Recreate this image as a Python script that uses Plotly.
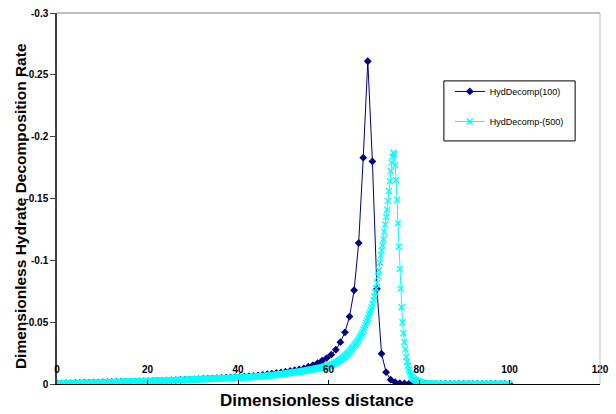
import numpy as np
import plotly.graph_objects as go

# ---------------- data ----------------
# HydDecomp(100): 100 grid points over dimensionless distance 0..100
# (magnitudes; plotted as negative rates)
mag_100 = [
    .0004, .0005, .0006, .0007, .0008, .0009, .0010, .0011, .0012, .0013,
    .0014, .0015, .0016, .0017, .0018, .0019, .0020, .0021, .0022, .0023,
    .0024, .0025, .0027, .0028, .0029, .0031, .0032, .0034, .0035, .0037,
    .0038, .0040, .0042, .0044, .0046, .0048, .0050, .0052, .0054, .0056,
    .0057, .0060, .0063, .0066, .0070, .0074, .0079, .0084, .0089, .0094,
    .0099, .0105, .0111, .0118, .0126, .0140, .0152, .0168, .0188, .0210,
    .0237, .0277, .0338, .0418, .0545, .0758, .1140, .1830, .2610, .1800,
    .0770, .0245, .0096, .0035, .0014, .0007, .0004, .0002, .0001, .0000,
    0, 0, 0, 0, 0, 0, 0, 0, 0, 0,
    0, 0, 0, 0, 0, 0, 0, 0, 0, 0,
]
distance_100 = np.linspace(0, 100, len(mag_100))

# HydDecomp-(500): 500 grid points over dimensionless distance 0..100
mag_500 = [
    .0003, .0003,
    .0003, .0003, .0003, .0004, .0004, .0004, .0004, .0004, .0005, .0005,
    .0005, .0005, .0005, .0006, .0006, .0006, .0006, .0006, .0007, .0007,
    .0007, .0007, .0007, .0008, .0008, .0008, .0008, .0008, .0009, .0009,
    .0009, .0009, .0009, .0010, .0010, .0010, .0010, .0010, .0011, .0011,
    .0011, .0011, .0011, .0012, .0012, .0012, .0012, .0012, .0013, .0013,
    .0013, .0013, .0013, .0014, .0014, .0014, .0014, .0014, .0015, .0015,
    .0015, .0015, .0015, .0016, .0016, .0016, .0016, .0016, .0017, .0017,
    .0017, .0017, .0017, .0018, .0018, .0018, .0018, .0018, .0019, .0019,
    .0019, .0019, .0019, .0020, .0020, .0020, .0020, .0020, .0021, .0021,
    .0022, .0022, .0022, .0022, .0023, .0023, .0023, .0023, .0024, .0024,
    .0025, .0025, .0025, .0025, .0025, .0026, .0026, .0026, .0026, .0026,
    .0027, .0027, .0027, .0027, .0027, .0028, .0028, .0028, .0028, .0028,
    .0029, .0029, .0029, .0030, .0030, .0030, .0030, .0031, .0031, .0031,
    .0032, .0032, .0032, .0032, .0032, .0033, .0033, .0033, .0033, .0034,
    .0034, .0034, .0035, .0035, .0035, .0036, .0036, .0036, .0036, .0037,
    .0037, .0037, .0038, .0038, .0038, .0039, .0039, .0039, .0039, .0040,
    .0040, .0040, .0041, .0041, .0041, .0042, .0042, .0042, .0042, .0043,
    .0043, .0043, .0044, .0044, .0044, .0045, .0045, .0045, .0045, .0046,
    .0046, .0046, .0047, .0047, .0047, .0048, .0048, .0048, .0048, .0049,
    .0049, .0049, .0050, .0050, .0050, .0051, .0051, .0051, .0051, .0052,
    .0052, .0052, .0053, .0053, .0053, .0054, .0054, .0055, .0055, .0055,
    .0056, .0056, .0057, .0057, .0058, .0059, .0059, .0060, .0060, .0061,
    .0061, .0062, .0062, .0063, .0063, .0064, .0065, .0065, .0066, .0066,
    .0067, .0068, .0069, .0069, .0070, .0071, .0072, .0073, .0073, .0074,
    .0075, .0076, .0077, .0078, .0079, .0080, .0081, .0082, .0083, .0084,
    .0085, .0086, .0087, .0088, .0089, .0090, .0091, .0092, .0093, .0094,
    .0095, .0096, .0097, .0098, .0099, .0100, .0101, .0102, .0104, .0105,
    .0106, .0107, .0108, .0110, .0111, .0112, .0113, .0115, .0116, .0118,
    .0119, .0120, .0122, .0123, .0125, .0126, .0128, .0129, .0131, .0132,
    .0134, .0136, .0138, .0139, .0141, .0143, .0145, .0147, .0149, .0150,
    .0152, .0156, .0160, .0163, .0167, .0170, .0174, .0179, .0183, .0188,
    .0192, .0198, .0203, .0209, .0214, .0220, .0227, .0234, .0241, .0248,
    .0255, .0264, .0273, .0282, .0291, .0300, .0310, .0320, .0330, .0340,
    .0350, .0364, .0378, .0392, .0406, .0420, .0438, .0456, .0474, .0492,
    .0510, .0532, .0554, .0576, .0598, .0620, .0650, .0680, .0710, .0740,
    .0770, .0820, .0870, .0920, .0980, .1040, .1080, .1120, .1170, .1230,
    .1290, .1350, .1410, .1480, .1560, .1640, .1720, .1790, .1840, .1870,
    .1860, .1770, .1650, .1490, .1300, .1110, .0930, .0770, .0620, .0500,
    .0410, .0340, .0280, .0220, .0180, .0145, .0117, .0095, .0077, .0063,
    .0052, .0045, .0038, .0032, .0028, .0025, .0022, .0019, .0017, .0015,
    .0013, .0011, .0010, .0009, .0008, .0007, .0006, .0005, .0004, .0004,
    .0003, .0003, .0002, .0002, .0002, .0001, .0001, .0001, .0001, .0001,
    0, 0, 0, 0, 0, 0, 0, 0, 0, 0,
    0, 0, 0, 0, 0, 0, 0, 0, 0, 0,
    0, 0, 0, 0, 0, 0, 0, 0, 0, 0,
    0, 0, 0, 0, 0, 0, 0, 0, 0, 0,
    0, 0, 0, 0, 0, 0, 0, 0, 0, 0,
    0, 0, 0, 0, 0, 0, 0, 0, 0, 0,
    0, 0, 0, 0, 0, 0, 0, 0, 0, 0,
    0, 0, 0, 0, 0, 0, 0, 0,
]
distance_500 = np.linspace(0, 100, len(mag_500))

# decomposition rates are negative
rate_100 = [-v for v in mag_100]
rate_500 = [-v for v in mag_500]

series_names = ["HydDecomp(100)", "HydDecomp-(500)"]
x_ticks = [0, 20, 40, 60, 80, 100, 120]
y_ticks = [0, -0.05, -0.1, -0.15, -0.2, -0.25, -0.3]
y_tick_labels = ["0", "-0.05", "-0.1", "-0.15", "-0.2", "-0.25", "-0.3"]

# ---------------- figure ----------------
FONT = "Liberation Sans, Arial, sans-serif"
W, H = 616, 414
L, R, T, B = 57, 13, 7, 30
pw, ph = W - L - R, H - T - B

def px(x):
    return (x - L) / pw

def py(y):
    return 1 - (y - T) / ph

fig = go.Figure()
fig.add_trace(go.Scatter(
    x=distance_100, y=rate_100, mode="lines+markers", name=series_names[0],
    line=dict(color="#000080", width=1),
    marker=dict(symbol="diamond", size=6, color="#000080"),
    legendgroup="a",
))
fig.add_trace(go.Scatter(
    x=distance_500, y=rate_500, mode="lines+markers", name=series_names[1],
    line=dict(color="#00FFFF", width=1),
    marker=dict(symbol="x-thin", size=6, color="#00FFFF",
                line=dict(color="#00FFFF", width=1.3)),
    legendgroup="b",
))

fig.update_layout(
    width=W, height=H,
    margin=dict(l=L, r=R, t=T, b=B, pad=0),
    paper_bgcolor="white", plot_bgcolor="white",
    font=dict(family=FONT, size=9, color="black"),
    showlegend=True,
    legend=dict(
        x=px(452), y=py(72), xanchor="left", yanchor="top",
        bgcolor="rgba(0,0,0,0)", borderwidth=0,
        font=dict(family=FONT, size=9, color="black"),
        traceorder="grouped", tracegroupgap=11,
        itemwidth=30,
    ),
    xaxis=dict(
        range=[0, 120], tickvals=x_ticks, ticktext=[str(v) for v in x_ticks],
        showgrid=False, zeroline=False,
        showline=True, linecolor="black", linewidth=1,
        ticks="inside", ticklen=4, tickcolor="black",
        ticklabelstandoff=-24,
        tickfont=dict(family=FONT, size=10, color="black", weight="bold"),
    ),
    yaxis=dict(
        range=[0, -0.3], tickvals=y_ticks, ticktext=y_tick_labels,
        showgrid=False, zeroline=False,
        showline=True, linecolor="#404040", linewidth=1.5,
        ticks="outside", ticklen=5, tickcolor="#404040",
        tickfont=dict(family=FONT, size=10, color="black", weight="bold"),
    ),
    shapes=[
        # plot-area border (top and right)
        dict(type="line", xref="paper", yref="paper", x0=0, x1=1, y0=1, y1=1,
             line=dict(color="#808080", width=1)),
        dict(type="line", xref="paper", yref="paper", x0=1, x1=1, y0=0, y1=1,
             line=dict(color="#C0C0C0", width=1)),
        # legend frame
        dict(type="rect", xref="paper", yref="paper",
             x0=px(446), x1=px(578), y0=py(137), y1=py(76),
             line=dict(color="black", width=1), fillcolor="rgba(0,0,0,0)"),
    ],
    annotations=[
        dict(text="<b>Dimensionless Hydrate Decomposition Rate</b>",
             xref="paper", yref="paper", x=px(21), y=py(203),
             xanchor="center", yanchor="middle", textangle=-90, showarrow=False,
             font=dict(family=FONT, size=15.5, color="black")),
        dict(text="<b>Dimensionless distance</b>",
             xref="paper", yref="paper", x=px(318), y=py(401),
             xanchor="center", yanchor="middle", showarrow=False,
             font=dict(family=FONT, size=17, color="black")),
    ],
)

fig.write_html("out.html", config={"displayModeBar": False},
               post_script="document.body.style.margin='0';")
